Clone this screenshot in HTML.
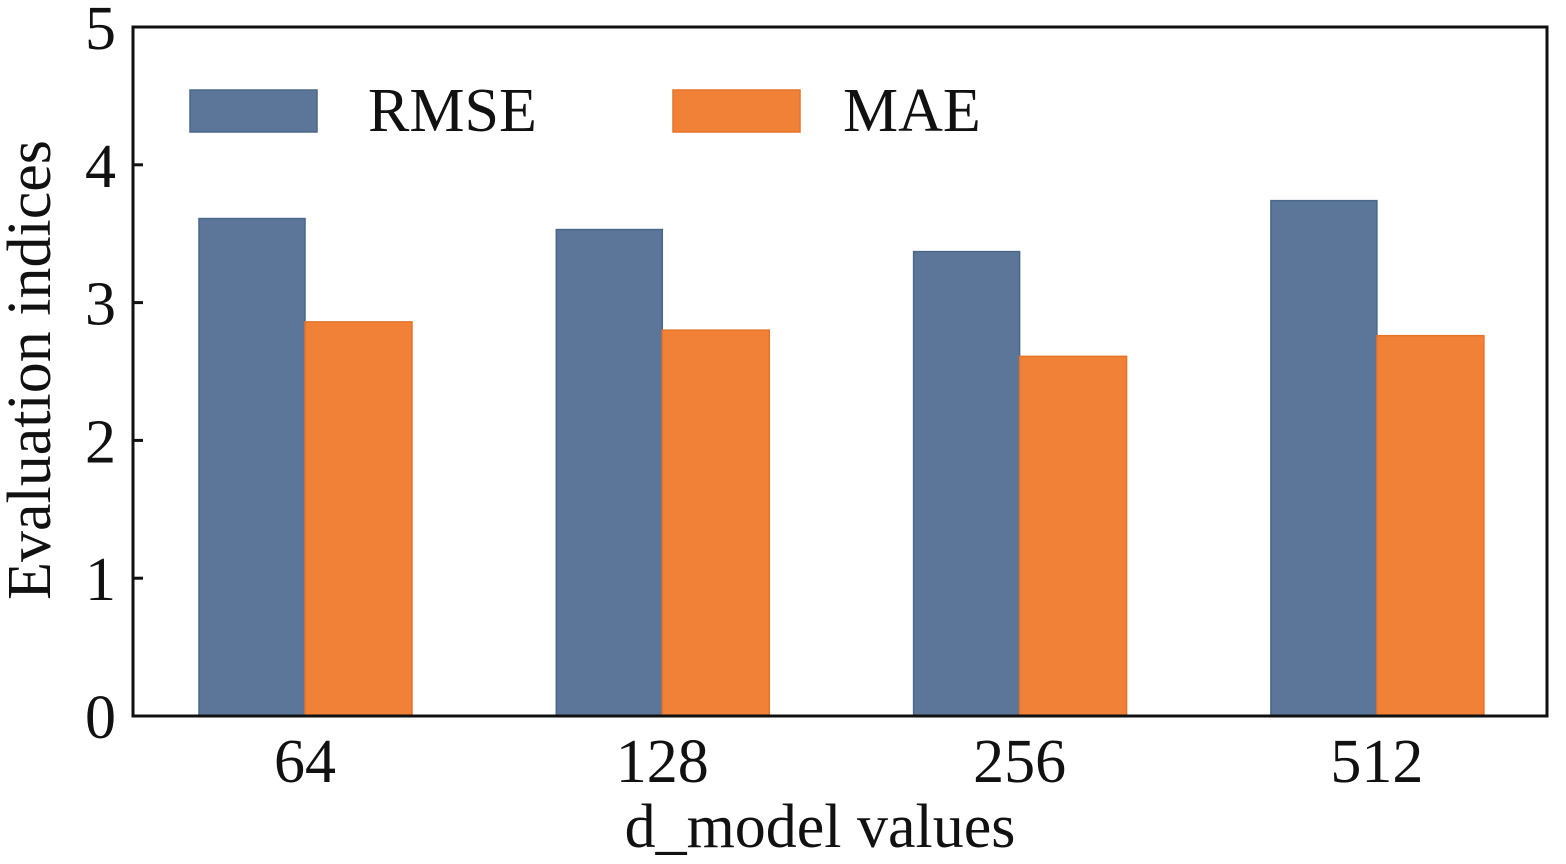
<!DOCTYPE html>
<html><head><meta charset="utf-8"><style>
html,body{margin:0;padding:0;background:#fff;}
svg{display:block;font-family:"Liberation Serif",serif;}
</style></head><body>
<svg id="chart" width="1566" height="864" viewBox="0 0 1566 864"></svg>
<script>
const categories = ["64","128","256","512"];
const rmseValues = [3.61, 3.53, 3.37, 3.74];
const maeValues = [2.86, 2.80, 2.61, 2.76];
const yTicks = [0,1,2,3,4,5];

const NS="http://www.w3.org/2000/svg";
const svg=document.getElementById('chart');
const L=133,R=1547,T=27,B=716;
const yMin=0,yMax=5;
function y(v){return B-(v-yMin)/(yMax-yMin)*(B-T);}
const c0=305,step=357.3,bw=106;
function x(i){return c0+i*step;}
function mk(tag,attrs,text){const e=document.createElementNS(NS,tag);for(const k in attrs)e.setAttribute(k,attrs[k]);if(text!==undefined)e.textContent=text;svg.appendChild(e);return e;}
const FS=62;

categories.forEach((c,i)=>{
  const r=mk('rect',{x:x(i)-bw,y:y(rmseValues[i]),width:bw,height:y(0)-y(rmseValues[i]),fill:'#5b7698',stroke:'#4a6688','stroke-width':1.5});
  
  
  const m=mk('rect',{x:x(i),y:y(maeValues[i]),width:bw+1,height:y(0)-y(maeValues[i]),fill:'#f08136',stroke:'#e57328','stroke-width':1.5});
  
  
  const t=mk('text',{x:x(i),y:782,'font-size':FS,'text-anchor':'middle',fill:'#111'},c);
  
  
});
yTicks.forEach(v=>{
  const l=mk('line',{x1:L,x2:L+10,y1:y(v),y2:y(v),stroke:'#111','stroke-width':3});
  
  
  const t=mk('text',{x:116,y:y(v)+22,'font-size':FS,'text-anchor':'end',fill:'#111'},String(v));
  
  
});
const f=mk('rect',{x:L,y:T,width:R-L,height:B-T,fill:'none',stroke:'#111','stroke-width':3});


const xt=mk('text',{x:820,y:847,'font-size':FS,'text-anchor':'middle',fill:'#111'},'d_model values');


const yt=mk('text',{x:0,y:0,'font-size':FS,'text-anchor':'middle',fill:'#111',transform:'translate(50,370) rotate(-90)'},'Evaluation indices');


const lr1=mk('rect',{x:190,y:90,width:127,height:42,fill:'#5b7698',stroke:'#4a6688','stroke-width':1.5});


const lt1=mk('text',{x:368,y:131,'font-size':FS,fill:'#111'},'RMSE');


const lr2=mk('rect',{x:673,y:90,width:127,height:42,fill:'#f08136',stroke:'#e57328','stroke-width':1.5});


const lt2=mk('text',{x:843,y:131,'font-size':FS,fill:'#111'},'MAE');


</script>
</body></html>
